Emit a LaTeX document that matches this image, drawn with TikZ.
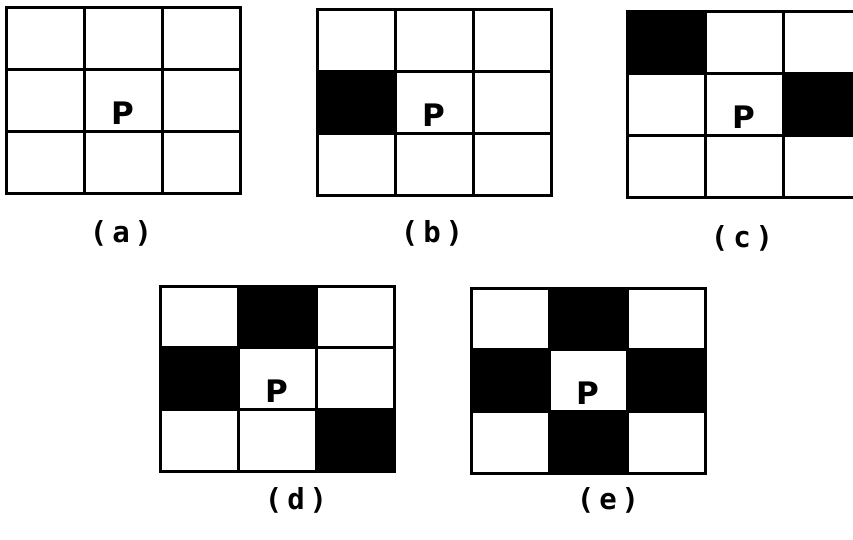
\documentclass[tikz,border=0pt]{standalone}
\usepackage{fontspec}
\setmainfont{DejaVu Sans}
\newfontfamily\pixfont{DejaVu Sans Mono}

\begin{document}
\begin{tikzpicture}[x=1pt,y=-1pt,line width=3pt,
    negro/.style={fill=black},
    letrap/.style={font=\fontsize{31}{31}\selectfont\bfseries},
    rotulo/.style={font=\pixfont\fontsize{29}{29}\selectfont\bfseries}]
  \clip (0,0) rectangle (853,540);
  % (a) sin celdas vecinas
  \begin{scope}[shift={(6,8)}]
    \draw (0,0) rectangle (234,185);
    \draw (78,0)--(78,185) (156,0)--(156,185) (0,61.7)--(234,61.7) (0,123.3)--(234,123.3);
    \node[letrap] (pa) at (117,105) {P};
  \end{scope}
  \node[rotulo] (ra) at (121,233) {(\,a\,)};
  % (b) una vecina a la izquierda
  \begin{scope}[shift={(317,10)}]
    \fill[negro] (0,61.7) rectangle (78,123.3);
    \draw (0,0) rectangle (234,185);
    \draw (78,0)--(78,185) (156,0)--(156,185) (0,61.7)--(234,61.7) (0,123.3)--(234,123.3);
    \node[letrap] (pb) at (117,105) {P};
  \end{scope}
  \node[rotulo] (rb) at (432,233) {(\,b\,)};
  % (c) dos vecinas
  \begin{scope}[shift={(627,12)}]
    \fill[negro] (0,0) rectangle (78,61.7);
    \fill[negro] (156,61.7) rectangle (234,123.3);
    \draw (0,0) rectangle (234,185);
    \draw (78,0)--(78,185) (156,0)--(156,185) (0,61.7)--(234,61.7) (0,123.3)--(234,123.3);
    \node[letrap] (pc) at (117,105) {P};
  \end{scope}
  \node[rotulo] (rc) at (742,238) {(\,c\,)};
  % (d) tres vecinas
  \begin{scope}[shift={(160,286)}]
    \fill[negro] (78,0) rectangle (156,61.7);
    \fill[negro] (0,61.7) rectangle (78,123.3);
    \fill[negro] (156,123.3) rectangle (234,185);
    \draw (0,0) rectangle (234,185);
    \draw (78,0)--(78,185) (156,0)--(156,185) (0,61.7)--(234,61.7) (0,123.3)--(234,123.3);
    \node[letrap] (pd) at (117,105) {P};
  \end{scope}
  \node[rotulo] (rd) at (296,500) {(\,d\,)};
  % (e) cuatro vecinas
  \begin{scope}[shift={(471,288)}]
    \fill[negro] (78,0) rectangle (156,61.7);
    \fill[negro] (0,61.7) rectangle (78,123.3);
    \fill[negro] (156,61.7) rectangle (234,123.3);
    \fill[negro] (78,123.3) rectangle (156,185);
    \draw (0,0) rectangle (234,185);
    \draw (78,0)--(78,185) (156,0)--(156,185) (0,61.7)--(234,61.7) (0,123.3)--(234,123.3);
    \node[letrap] (pe) at (117,105) {P};
  \end{scope}
  \node[rotulo] (re) at (608,500) {(\,e\,)};
\end{tikzpicture}
\end{document}
